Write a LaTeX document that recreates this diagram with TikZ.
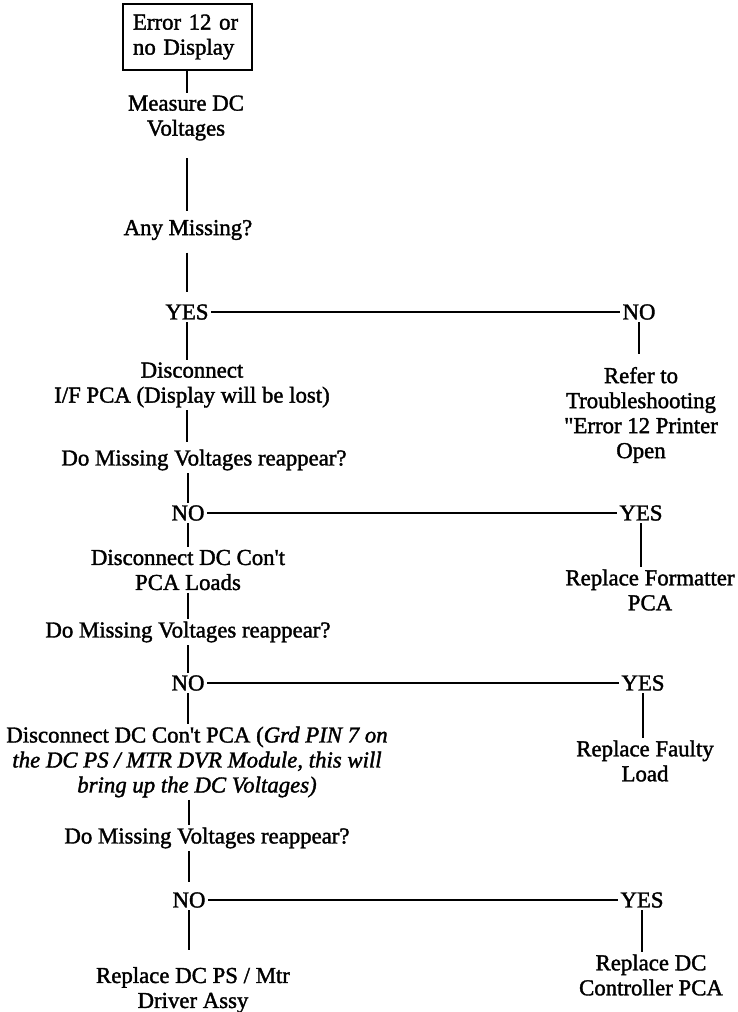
\documentclass[tikz,border=0pt]{standalone}
\usepackage{fontspec}
\newfontfamily\manual{Liberation Serif}[FakeBold=1.6]
\usepackage{tikz}
\usetikzlibrary{positioning,calc}

\tikzset{
txt/.style={inner sep=2pt, align=center, font=\manual\fontsize{22.8}{25}\selectfont},
box/.style={txt, draw, align=left, text width=109pt, inner sep=10pt, minimum height=66pt}
}

\begin{document}
\begin{tikzpicture}[x=1pt,y=-1pt,line width=1.3pt]
\useasboundingbox (0,0) rectangle (738,1012);

% left column
\node (err) at (187.5,37) [box] {Error 12 or\\no Display};
\node (meas) at (186,118) [txt] {Measure DC\\Voltages};
\node (any) at (188,230) [txt] {Any Missing?};
\node (yes1) at (187,312) [txt] {YES};
\node (dis1) at (192,385) [txt] {Disconnect\\I/F PCA (Display will be lost)};
\node (q1) at (204,460) [txt] {Do Missing Voltages reappear?};
\node (no1) at (188,513) [txt] {NO};
\node (dis2) at (188,570) [txt] {Disconnect DC Con't\\PCA Loads};
\node (q2) at (188,632) [txt] {Do Missing Voltages reappear?};
\node (no2) at (188,683) [txt] {NO};
\node (dis3) at (197,762) [txt] {Disconnect DC Con't PCA (\textit{Grd PIN 7 on}\\\textit{the DC PS / MTR DVR Module, this will}\\\textit{bring up the DC Voltages)}};
\node (q3) at (207,838) [txt] {Do Missing Voltages reappear?};
\node (no3) at (189,900) [txt] {NO};
\node (rep4) at (193,990) [txt] {Replace DC PS / Mtr\\Driver Assy};

% right column
\node (rno1) at (639,312) [txt] {NO};
\node (refer) at (641,415) [txt] {Refer to\\Troubleshooting\\"Error 12 Printer\\Open};
\node (ryes1) at (641,513) [txt] {YES};
\node (rep1) at (650,590) [txt] {Replace Formatter\\PCA};
\node (ryes2) at (643,683) [txt] {YES};
\node (rep2) at (645,761) [txt] {Replace Faulty\\Load};
\node (ryes3) at (642,900) [txt] {YES};
\node (rep3) at (651,975) [txt] {Replace DC\\Controller PCA};

% trunk
\draw (err.south -| yes1) edge (yes1 |- meas.north);
\draw (meas.south -| yes1) edge[shorten <=15pt, shorten >=6pt] (yes1 |- any.north);
\draw (any.south -| yes1) edge[shorten <=10pt, shorten >=10pt] (yes1);
\draw (yes1) edge (yes1 |- dis1.north);
\draw (dis1.south -| yes1) edge[shorten >=5pt] (yes1 |- q1.north);
\draw (q1.south -| no1) edge (no1);
\draw (no1) edge (dis2);
\draw (dis2) edge (dis2 |- q2.north);
\draw (q2) edge (q2 |- no2.north);
\draw (no2) edge (no2 |- dis3.north);
\draw (dis3.south -| no3) edge (no3 |- q3.north);
\draw (q3.south -| no3) edge[shorten >=8pt] (no3);
\draw (no3) edge[shorten >=14pt] (no3 |- rep4.north);

% branches
\draw (yes1) edge (rno1);
\draw (no1) edge (ryes1);
\draw (no2) edge (ryes2);
\draw (no3) edge (ryes3);
\draw (rno1) edge[shorten >=10pt] (rno1 |- refer.north);
\draw (ryes1) edge (ryes1 |- rep1.north);
\draw (ryes2) edge (ryes2 |- rep2.north);
\draw (ryes3) edge (ryes3 |- rep3.north);

\end{tikzpicture}
\end{document}
